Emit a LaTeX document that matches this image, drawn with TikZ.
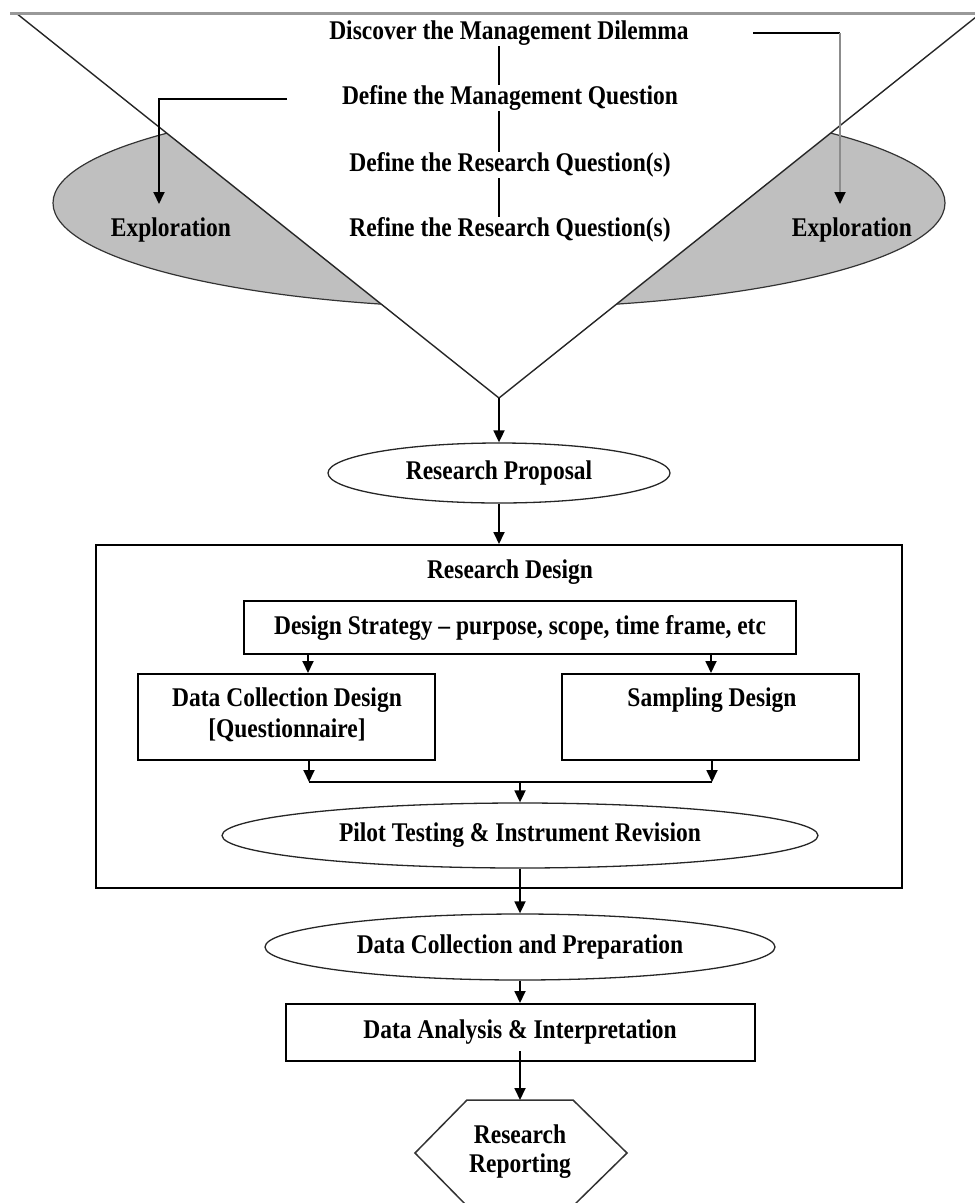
\documentclass[tikz,border=0pt]{standalone}
\usepackage{fontspec}
\setmainfont{Liberation Serif}[FakeStretch=0.87]
\usetikzlibrary{arrows.meta,shapes.geometric,calc}
\begin{document}
\begin{tikzpicture}[x=1pt,y=-1pt,
  txt/.style={font=\fontsize{27pt}{30pt}\selectfont\bfseries, inner sep=0.5pt},
  ln/.style={line width=1.8pt, draw=black},
  arr/.style={ln, -{Triangle[length=12pt,width=11pt]}},
  box/.style={draw=black, line width=2pt, inner sep=0pt},
  oval/.style={ellipse, draw=black!85, line width=1.3pt, fill=white},
  explo/.style={fill=black!25, draw=black!80, line width=1.2pt},
  funnel/.style={line width=1.4pt, draw=black!85}]
\useasboundingbox (0,0) rectangle (975,1203);
% exploration ellipses
\begin{scope}
  \clip (0,0) rectangle (499,400);
  \draw[explo] (503,203) ellipse [x radius=450pt, y radius=105pt];
\end{scope}
\begin{scope}
  \clip (499,0) rectangle (975,400);
  \draw[explo] (495,203) ellipse [x radius=450pt, y radius=105pt];
\end{scope}
% funnel
\fill[white] (16,13) -- (499,398) -- (981,13) -- cycle;
\draw[funnel] (16,13) -- (499,398) -- (981,13);
\draw[line width=3pt, draw=black!40] (10,13) -- (975,13);
% funnel texts
\coordinate (ax) at (499,0);
\node[txt] (t1) at (509,33) {Discover the Management Dilemma};
\node[txt] (t2) at (510,98) {Define the Management Question};
\node[txt] (t3) at (510,165) {Define the Research Question(s)};
\node[txt] (t4) at (510,230) {Refine the Research Question(s)};
\draw[ln, line width=1.5pt] (t1.south -| ax) -- (t2.north -| ax);
\draw[ln, line width=1.5pt] (t2.south -| ax) -- (t3.north -| ax);
\draw[ln, line width=1.5pt] (t3.south -| ax) -- (t4.north -| ax);
\node[txt] (eL) at (171,230) {Exploration};
\node[txt] (eR) at (852,230) {Exploration};
\coordinate (ls) at (287,99);
\coordinate (lt) at (159,204);
\draw[arr] (ls) -| (lt);
\coordinate (rs) at (753,33);
\coordinate (rc) at (840,33);
\coordinate (rt) at (840,204);
\draw[ln] (rs) -- (rc);
\draw[ln, draw=black!45, -{Triangle[length=12pt,width=11pt,color=black]}] (rc) -- (rt);
% proposal
\coordinate (apex) at (499,398);
\node[txt, oval, minimum width=342pt, minimum height=60pt] (rp) at (499,473) {Research Proposal};
\draw[arr] (apex) -- (rp.north);
% research design
\node[box, minimum width=806pt, minimum height=343pt] (rd) at (499,716.5) {};
\node[txt] (rdl) at (510,572) {Research Design};
\draw[arr] (rp.south) -- (rd.north);
\node[box, txt, minimum width=552pt, minimum height=53pt] (ds) at (520,627.5) {Design Strategy – purpose, scope, time frame, etc};
\node[box, minimum width=297pt, minimum height=86pt] (dcd) at (286.5,717) {};
\node[txt, align=center, font=\fontsize{27pt}{31pt}\selectfont\bfseries] (dcdt) at (287,714.5) {Data Collection Design\\{[Questionnaire]}};
\node[box, minimum width=297pt, minimum height=86pt] (sd) at (710.5,717) {};
\node[txt] (sdt) at (712,700) {Sampling Design};
\coordinate (cL) at (308,0);
\coordinate (cR) at (711,0);
\draw[arr] (ds.south -| cL) -- (dcd.north -| cL);
\draw[arr] (ds.south -| cR) -- (sd.north -| cR);
\coordinate (jL) at (309,782);
\coordinate (jR) at (712,782);
\coordinate (jM) at (520,782);
\draw[arr] (dcd.south -| jL) -- (jL);
\draw[arr] (sd.south -| jR) -- (jR);
\draw[ln] (jL) -- (jR);
\node[txt, oval, minimum width=596pt, minimum height=65pt] (pt) at (520,835.5) {Pilot Testing \& Instrument Revision};
\draw[arr] (jM) -- (pt.north);
% lower chain
\node[txt, oval, minimum width=510pt, minimum height=66pt] (dcp) at (520,947) {Data Collection and Preparation};
\draw[arr] (pt.south) -- (dcp.north);
\node[box, txt, minimum width=469pt, minimum height=57pt] (da) at (520,1032.5) {Data Analysis \& Interpretation};
\draw[arr] (dcp.south) -- (da.north);
\draw[line width=1.5pt, draw=black!80] (467,1100) -- (573,1100) -- (627,1153) -- (573,1206) -- (467,1206) -- (415,1153) -- cycle;
\node[txt, align=center, font=\fontsize{27pt}{29pt}\selectfont\bfseries] (rr) at (520,1152) {Research\\Reporting};
\coordinate (ht) at (520,1100);
\draw[arr] ([yshift=11pt]da.south) -- (ht);
\end{tikzpicture}
\end{document}
